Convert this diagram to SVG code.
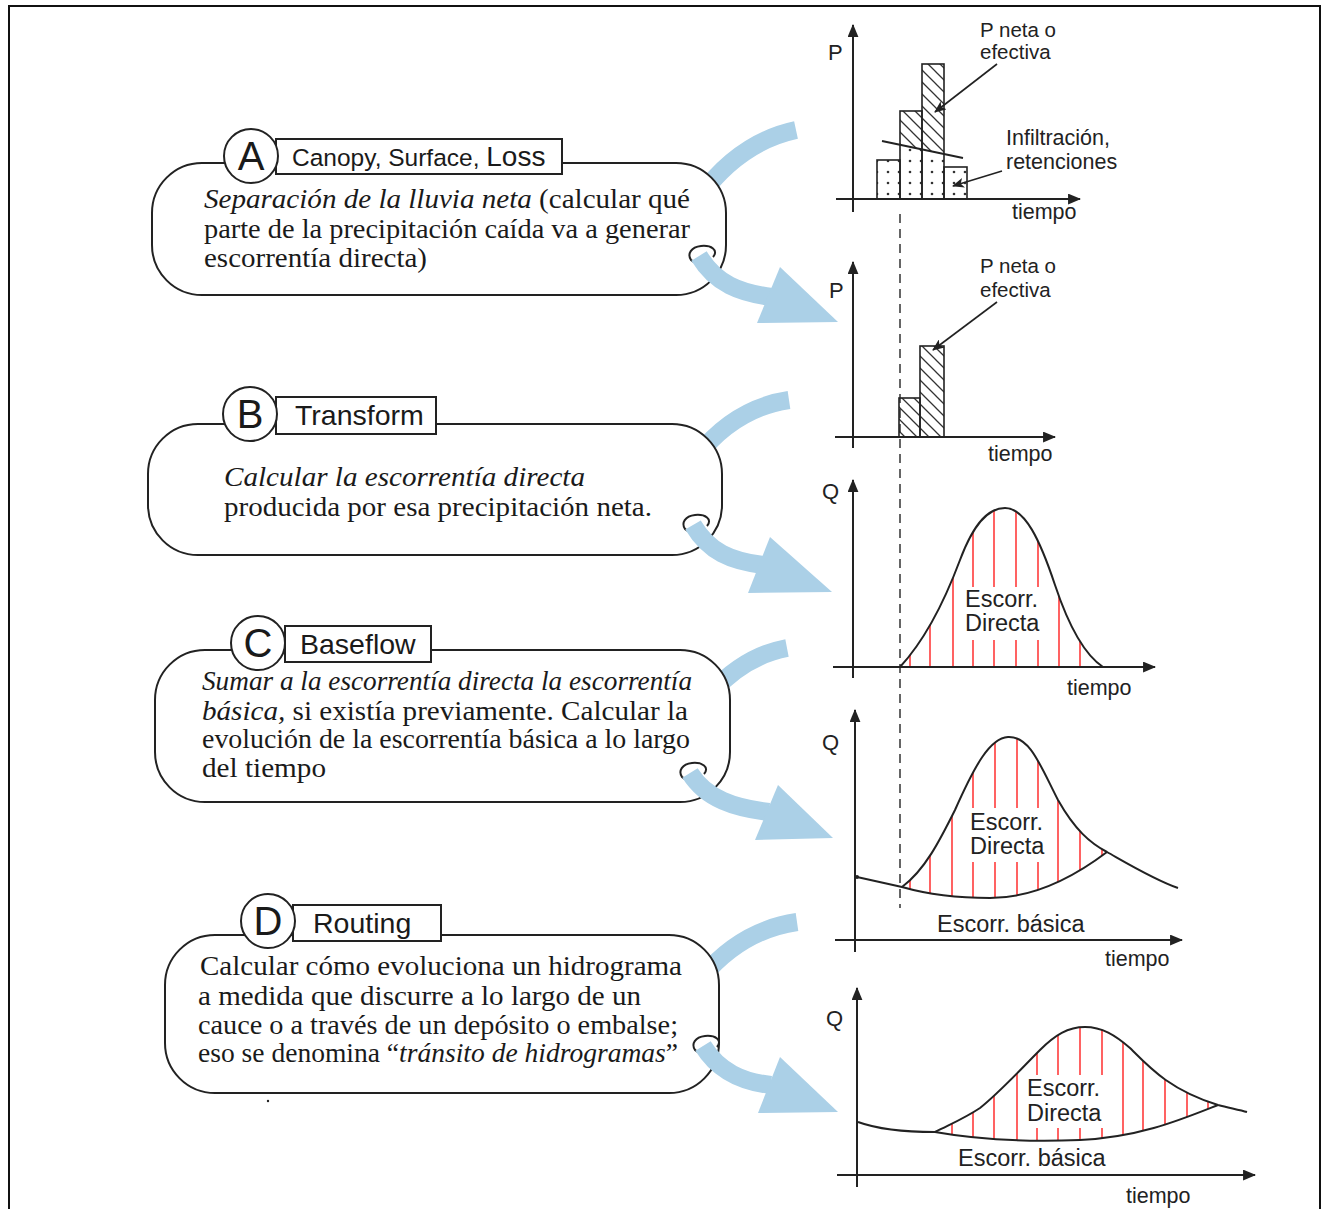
<svg xmlns="http://www.w3.org/2000/svg" width="1328" height="1209" viewBox="0 0 1328 1209">
<style>
.frame{fill:none;stroke:#111;stroke-width:2}
.box{fill:#fff;stroke:#222;stroke-width:2}
.lbl{fill:#fff;stroke:#222;stroke-width:2}
.circ{fill:#fff;stroke:#222;stroke-width:2}
.letter{font-family:"Liberation Sans",Arial,sans-serif;font-size:40px;fill:#1a1a1a;text-anchor:middle}
.title{font-family:"Liberation Sans",Arial,sans-serif;font-size:28.5px;fill:#1a1a1a}
.body{font-family:"Liberation Serif","Times New Roman",serif;font-size:27.5px;fill:#1a1a1a}
.it{font-style:italic}
.curl{fill:none;stroke:#222;stroke-width:2}
.band{fill:none;stroke:#abd0e7;stroke-width:18}
.head{fill:#abd0e7}
.ax{stroke:#222;stroke-width:2;fill:none}
.ann{stroke:#222;stroke-width:1.6;fill:none}
.ct{font-family:"Liberation Sans",Arial,sans-serif;font-size:21.5px;fill:#222}
.sm{font-size:20.5px}
.big{font-size:23.5px}
.ax-l{font-family:"Liberation Sans",Arial,sans-serif;font-size:22px;fill:#222}
.crv{fill:none;stroke:#222;stroke-width:2}
.red{stroke:#ff3b3b;stroke-width:1.6}
.bar{fill:none;stroke:#222;stroke-width:1.6}
.dash{stroke:#555;stroke-width:1.8;stroke-dasharray:9 6;fill:none}
</style>
<defs>
<marker id="ah" viewBox="0 0 12 10" refX="11" refY="5" markerWidth="13" markerHeight="11" markerUnits="userSpaceOnUse" orient="auto">
<path d="M0,0 L12,5 L0,10 z" fill="#222"/>
</marker>
<marker id="ah2" viewBox="0 0 12 10" refX="11" refY="5" markerWidth="12" markerHeight="10" markerUnits="userSpaceOnUse" orient="auto">
<path d="M0,0 L12,5 L0,10 L3,5 z" fill="#222"/>
</marker>
<pattern id="hatch" patternUnits="userSpaceOnUse" width="12" height="12">
<path d="M0,0 L12,12 M-6,6 L6,18 M6,-6 L18,6" stroke="#333" stroke-width="1.3"/>
</pattern>
<pattern id="dots" patternUnits="userSpaceOnUse" width="11" height="11" x="3" y="2">
<circle cx="5" cy="5" r="1.3" fill="#333"/>
</pattern>
<clipPath id="above1"><polygon points="870,40 975,40 975,160.5 870,138.5"/></clipPath>
<clipPath id="below1"><polygon points="870,138.5 975,160.5 975,205 870,205"/></clipPath>
<clipPath id="area3"><path d="M 900 667 C 925 640, 945 600, 960 560 C 975 520, 990 508, 1005 508 C 1025 508, 1040 540, 1055 585 C 1070 630, 1085 655, 1103 667 Z"/></clipPath>
<clipPath id="area4"><path d="M 902 887 C 925 870, 940 840, 955 810 C 975 765, 990 738, 1008 737 C 1030 736, 1040 765, 1058 800 C 1075 830, 1090 843, 1107 852 C 1070 880, 1030 898, 990 898 C 960 898, 930 895, 902 887 Z"/></clipPath>
<clipPath id="area5"><path d="M 935 1132 C 955 1122, 965 1118, 980 1108 C 1000 1092, 1020 1070, 1040 1050 C 1055 1035, 1068 1027, 1085 1027 C 1102 1027, 1115 1035, 1130 1048 C 1150 1068, 1170 1090, 1218 1105 C 1180 1120, 1140 1137, 1080 1140 C 1030 1142, 980 1140, 935 1132 Z"/></clipPath>
<path id="curlshape" d="M 12 3 C 18 -4, 10 -9, 0 -8 C -10 -7, -14 0, -10 6 C -8 8, -5 9, -2 8"/>
</defs>

<rect x="0" y="0" width="1328" height="1209" fill="#fff"/>
<path class="frame" d="M 9 1215 L 9 6 L 1320 6 L 1320 1215"/>

<!-- back parts of blue bands (behind boxes) -->
<g id="connectors-back">
<path class="band" d="M 700 196 Q 740 142 796 130"/>
<path class="band" d="M 697 456 Q 735 408 789 400"/>
<path class="band" d="M 712 692 Q 745 656 787 648"/>
<path class="band" d="M 703 976 Q 742 930 797 922"/>
</g>

<!-- Node A -->
<g id="node-A">
<rect class="box" x="152" y="163" width="574" height="132" rx="50" ry="50"/>
<rect class="lbl" x="276" y="139" width="286" height="35"/>
<circle class="circ" cx="251" cy="156" r="27"/>
<text class="letter" x="251" y="170">A</text>
<text class="title" x="292" y="166" style="font-size:24.5px">Canopy, Surface, <tspan style="font-size:28px">Loss</tspan></text>
<text class="body" x="204" y="208" textLength="486" lengthAdjust="spacingAndGlyphs"><tspan class="it">Separación de la lluvia neta</tspan> (calcular qué</text>
<text class="body" x="204" y="238" textLength="486" lengthAdjust="spacingAndGlyphs">parte de la precipitación caída va a generar</text>
<text class="body" x="204" y="267" textLength="223" lengthAdjust="spacingAndGlyphs">escorrentía directa)</text>
</g>

<!-- Node B -->
<g id="node-B">
<rect class="box" x="148" y="424" width="574" height="131" rx="50" ry="50"/>
<rect class="lbl" x="276" y="397" width="160" height="37"/>
<circle class="circ" cx="250" cy="414" r="27"/>
<text class="letter" x="250" y="428">B</text>
<text class="title" x="295" y="425">Transform</text>
<text class="body it" x="224" y="486" textLength="361" lengthAdjust="spacingAndGlyphs">Calcular la escorrentía directa</text>
<text class="body" x="224" y="516" textLength="428" lengthAdjust="spacingAndGlyphs">producida por esa precipitación neta.</text>
</g>

<!-- Node C -->
<g id="node-C">
<rect class="box" x="155" y="650" width="575" height="152" rx="50" ry="50"/>
<rect class="lbl" x="285" y="626" width="146" height="36"/>
<circle class="circ" cx="258" cy="643" r="27"/>
<text class="letter" x="258" y="657">C</text>
<text class="title" x="300" y="654">Baseflow</text>
<text class="body it" x="202" y="690" textLength="490" lengthAdjust="spacingAndGlyphs">Sumar a la escorrentía directa la escorrentía</text>
<text class="body" x="202" y="720" textLength="486" lengthAdjust="spacingAndGlyphs"><tspan class="it">básica,</tspan> si existía previamente. Calcular la</text>
<text class="body" x="202" y="748" textLength="488" lengthAdjust="spacingAndGlyphs">evolución de la escorrentía básica a lo largo</text>
<text class="body" x="202" y="777" textLength="124" lengthAdjust="spacingAndGlyphs">del tiempo</text>
</g>

<!-- Node D -->
<g id="node-D">
<rect class="box" x="165" y="935" width="554" height="158" rx="50" ry="50"/>
<rect class="lbl" x="293" y="905" width="148" height="36"/>
<circle class="circ" cx="268" cy="921" r="27"/>
<text class="letter" x="268" y="935">D</text>
<text class="title" x="313" y="933">Routing</text>
<text class="body" x="200" y="975" textLength="482" lengthAdjust="spacingAndGlyphs">Calcular cómo evoluciona un hidrograma</text>
<text class="body" x="198" y="1005" textLength="443" lengthAdjust="spacingAndGlyphs">a medida que discurre a lo largo de un</text>
<text class="body" x="198" y="1034" textLength="480" lengthAdjust="spacingAndGlyphs">cauce o a través de un depósito o embalse;</text>
<text class="body" x="198" y="1062" textLength="480" lengthAdjust="spacingAndGlyphs">eso se denomina “<tspan class="it">tránsito de hidrogramas</tspan>”</text>
<circle cx="268" cy="1101" r="1.2" fill="#222"/>
</g>

<!-- front parts of blue arrows -->
<g id="connectors">
<use href="#curlshape" class="curl" transform="translate(701,254)"/>
<path class="band" d="M 699 256 C 716 284, 740 293, 772 297"/>
<polygon class="head" points="780,267 757,323 838,322"/>

<use href="#curlshape" class="curl" transform="translate(695,523)"/>
<path class="band" d="M 693 525 C 709 552, 731 561, 763 565"/>
<polygon class="head" points="770,537 748,593 832,592"/>

<use href="#curlshape" class="curl" transform="translate(692,771)"/>
<path class="band" d="M 690 773 C 706 799, 735 808, 769 812"/>
<polygon class="head" points="778,785 755,840 833,838"/>

<use href="#curlshape" class="curl" transform="translate(705,1044)"/>
<path class="band" d="M 703 1046 C 719 1072, 743 1082, 771 1085"/>
<polygon class="head" points="780,1057 758,1113 838,1112"/>
</g>

<!-- dashed time marker -->
<line class="dash" x1="900" y1="214" x2="900" y2="908"/>

<!-- Chart 1 -->
<g id="chart-1">
<g clip-path="url(#above1)">
<rect x="900" y="111" width="22" height="89" fill="url(#hatch)"/>
<rect x="922" y="64" width="22" height="136" fill="url(#hatch)"/>
</g>
<g clip-path="url(#below1)">
<rect x="877" y="160" width="23" height="40" fill="url(#dots)"/>
<rect x="900" y="111" width="22" height="89" fill="url(#dots)"/>
<rect x="922" y="64" width="22" height="136" fill="url(#dots)"/>
<rect x="944" y="167" width="23" height="33" fill="url(#dots)"/>
</g>
<rect class="bar" x="877" y="160" width="23" height="39"/>
<rect class="bar" x="900" y="111" width="22" height="88"/>
<rect class="bar" x="922" y="64" width="22" height="135"/>
<rect class="bar" x="944" y="167" width="23" height="32"/>
<line x1="882" y1="141" x2="963" y2="158" stroke="#222" stroke-width="2"/>
<line class="ax" x1="853" y1="212" x2="853" y2="25" marker-end="url(#ah)"/>
<line class="ax" x1="836" y1="199" x2="1080" y2="199" marker-end="url(#ah)"/>
<line class="ann" x1="997" y1="64" x2="935" y2="112" marker-end="url(#ah2)"/>
<line class="ann" x1="1002" y1="171" x2="953" y2="186" marker-end="url(#ah2)"/>
<text class="ax-l" x="828" y="60">P</text>
<text class="ct sm" x="980" y="37">P neta o</text>
<text class="ct sm" x="980" y="59">efectiva</text>
<text class="ct" x="1006" y="145">Infiltración,</text>
<text class="ct" x="1006" y="169">retenciones</text>
<text class="ct" x="1012" y="219">tiempo</text>
</g>

<!-- Chart 2 -->
<g id="chart-2">
<rect x="899" y="398" width="21" height="39" fill="url(#hatch)"/>
<rect x="920" y="346" width="24" height="91" fill="url(#hatch)"/>
<rect class="bar" x="899" y="398" width="21" height="39"/>
<rect class="bar" x="920" y="346" width="24" height="91"/>
<line class="ax" x1="853" y1="448" x2="853" y2="262" marker-end="url(#ah)"/>
<line class="ax" x1="835" y1="437" x2="1055" y2="437" marker-end="url(#ah)"/>
<line class="ann" x1="997" y1="302" x2="933" y2="350" marker-end="url(#ah2)"/>
<text class="ax-l" x="829" y="298">P</text>
<text class="ct sm" x="980" y="273">P neta o</text>
<text class="ct sm" x="980" y="297">efectiva</text>
<text class="ct" x="988" y="461">tiempo</text>
</g>

<!-- Chart 3 -->
<g id="chart-3">
<g clip-path="url(#area3)">
<path class="red" d="M910 500V667 M930 500V667 M953 500V667 M973 500V667 M994 500V667 M1016 500V667 M1038 500V667 M1059 500V667 M1080 500V667"/>
</g>
<rect x="962" y="587" width="82" height="53" fill="#fff"/>
<path class="crv" d="M 900 667 C 925 640, 945 600, 960 560 C 975 520, 990 508, 1005 508 C 1025 508, 1040 540, 1055 585 C 1070 630, 1085 655, 1103 667"/>
<line class="ax" x1="853" y1="678" x2="853" y2="480" marker-end="url(#ah)"/>
<line class="ax" x1="833" y1="667" x2="1155" y2="667" marker-end="url(#ah)"/>
<text class="ax-l" x="822" y="499">Q</text>
<text class="ct big" x="965" y="607">Escorr.</text>
<text class="ct big" x="965" y="631">Directa</text>
<text class="ct" x="1067" y="695">tiempo</text>
</g>

<!-- Chart 4 -->
<g id="chart-4">
<g clip-path="url(#area4)">
<path class="red" d="M910 720V905 M930 720V905 M952 720V905 M973 720V905 M995 720V905 M1017 720V905 M1038 720V905 M1058 720V905 M1080 720V905 M1102 720V905"/>
</g>
<rect x="966" y="808" width="82" height="54" fill="#fff"/>
<path class="crv" d="M 857 877 L 902 887 C 930 895, 960 898, 990 898 C 1030 898, 1070 880, 1107 852"/>
<path class="crv" d="M 902 887 C 925 870, 940 840, 955 810 C 975 765, 990 738, 1008 737 C 1030 736, 1040 765, 1058 800 C 1075 830, 1090 843, 1107 852 C 1130 865, 1155 880, 1178 888"/>
<circle cx="857" cy="877" r="2" fill="#222"/>
<line class="ax" x1="855" y1="952" x2="855" y2="710" marker-end="url(#ah)"/>
<line class="ax" x1="835" y1="940" x2="1182" y2="940" marker-end="url(#ah)"/>
<text class="ax-l" x="822" y="750">Q</text>
<text class="ct big" x="970" y="830">Escorr.</text>
<text class="ct big" x="970" y="854">Directa</text>
<text class="ct big" x="937" y="932">Escorr. básica</text>
<text class="ct" x="1105" y="966">tiempo</text>
</g>

<!-- Chart 5 -->
<g id="chart-5">
<g clip-path="url(#area5)">
<path class="red" d="M952 1010V1150 M973 1010V1150 M994 1010V1150 M1017 1010V1150 M1037 1010V1150 M1058 1010V1150 M1080 1010V1150 M1102 1010V1150 M1123 1010V1150 M1143 1010V1150 M1165 1010V1150 M1187 1010V1150 M1208 1010V1150"/>
</g>
<rect x="1023" y="1075" width="82" height="53" fill="#fff"/>
<path class="crv" d="M 858 1122 C 880 1130, 910 1132, 935 1132 C 980 1140, 1030 1142, 1080 1140 C 1140 1137, 1180 1120, 1218 1105"/>
<path class="crv" d="M 935 1132 C 955 1122, 965 1118, 980 1108 C 1000 1092, 1020 1070, 1040 1050 C 1055 1035, 1068 1027, 1085 1027 C 1102 1027, 1115 1035, 1130 1048 C 1150 1068, 1170 1090, 1218 1105 C 1230 1108, 1240 1110, 1247 1112"/>
<line class="ax" x1="857" y1="1187" x2="857" y2="988" marker-end="url(#ah)"/>
<line class="ax" x1="837" y1="1175" x2="1255" y2="1175" marker-end="url(#ah)"/>
<text class="ax-l" x="826" y="1026">Q</text>
<text class="ct big" x="1027" y="1096">Escorr.</text>
<text class="ct big" x="1027" y="1121">Directa</text>
<text class="ct big" x="958" y="1166">Escorr. básica</text>
<text class="ct" x="1126" y="1203">tiempo</text>
</g>
</svg>
